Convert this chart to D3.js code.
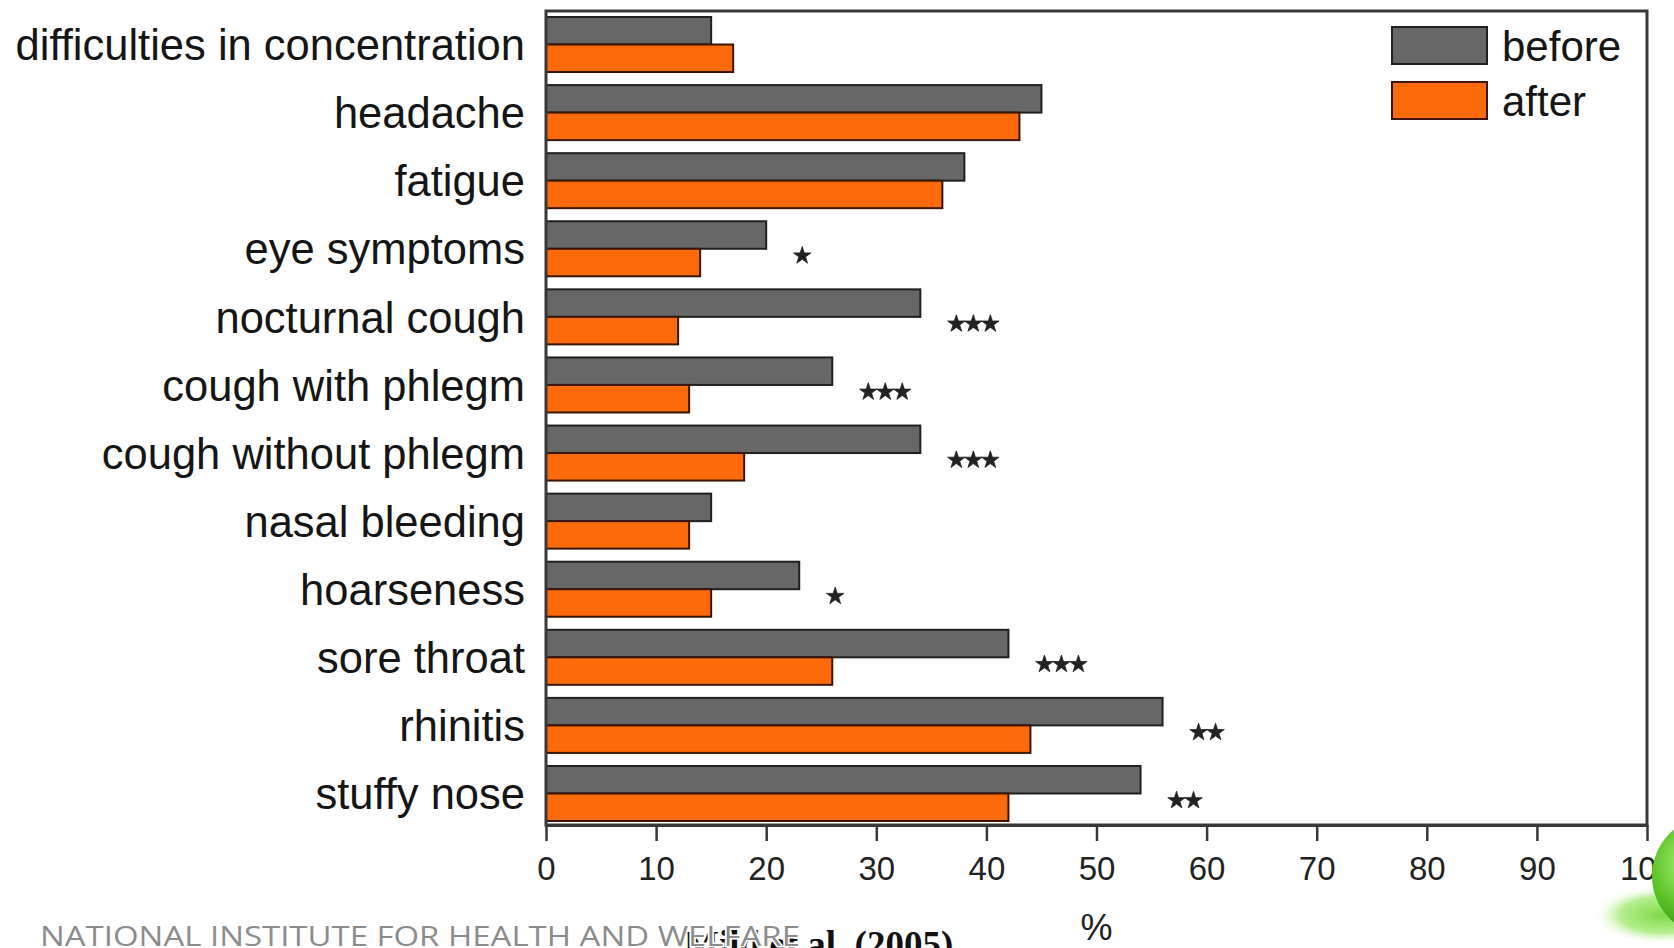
<!DOCTYPE html>
<html>
<head>
<meta charset="utf-8">
<script src="https://cdn.jsdelivr.net/npm/d3@7"></script>
<style>
  html, body { margin: 0; padding: 0; background: #fff; }
  svg { display: block; }
</style>
</head>
<body>
<div id="chart"></div>
<script>
// Symptoms reported before / after, percent of respondents
const categories = [
  'difficulties in concentration',
  'headache',
  'fatigue',
  'eye symptoms',
  'nocturnal cough',
  'cough with phlegm',
  'cough without phlegm',
  'nasal bleeding',
  'hoarseness',
  'sore throat',
  'rhinitis',
  'stuffy nose',
];
const beforeValues = [15, 45, 38, 20, 34, 26, 34, 15, 23, 42, 56, 54];
const afterValues = [17, 43, 36, 14, 12, 13, 18, 13, 15, 26, 44, 42];
const significance = ['', '', '', '*', '***', '***', '***', '', '*', '***', '**', '**'];
const seriesNames = ['before', 'after'];
const xTicks = [0, 10, 20, 30, 40, 50, 60, 70, 80, 90, 100];
const xLabel = '%';
const footerText = 'NATIONAL INSTITUTE FOR HEALTH AND WELFARE';
const citation = 'Mild et al. (2005)';

const width = 1674;
const height = 948;
const margin = { top: 11, right: 27, bottom: 123, left: 546 };
const innerW = width - margin.left - margin.right;
const innerH = height - margin.top - margin.bottom;

const colors = { before: '#676767', after: '#fc6a0c' };
const strokes = { before: '#202020', after: '#3a1500' };
const labelFont = '"Liberation Sans", Arial, Helvetica, sans-serif';

const svg = d3
  .select('#chart')
  .append('svg')
  .attr('width', width)
  .attr('height', height);

const defs = svg.append('defs');

const chart = svg
  .append('g')
  .attr('transform', `translate(${margin.left},${margin.top})`);

// Scales
const x = d3.scaleLinear().domain([0, 100]).range([0, innerW]);
const y = d3
  .scaleBand()
  .domain(categories)
  .range([6, innerH - 4])
  .paddingInner(0.192);
const sub = d3.scaleBand().domain(seriesNames).range([0, y.bandwidth()]);

const rows = categories.map((c, i) => ({
  name: c,
  before: beforeValues[i],
  after: afterValues[i],
  sig: significance[i],
}));

// Bars
const groups = chart
  .selectAll('.row')
  .data(rows)
  .enter()
  .append('g')
  .attr('class', 'row')
  .attr('transform', d => `translate(0,${y(d.name)})`);

groups
  .selectAll('rect')
  .data(d => seriesNames.map(s => ({ key: s, value: d[s] })))
  .enter()
  .append('rect')
  .attr('x', x(0))
  .attr('y', d => sub(d.key))
  .attr('width', d => x(d.value) - x(0))
  .attr('height', sub.bandwidth())
  .attr('fill', d => colors[d.key])
  .attr('stroke', d => strokes[d.key])
  .attr('stroke-width', 2);

// Significance stars, placed just right of the "before" bar
const star = d3.symbol().type(d3.symbolStar).size(95);
groups.each(function (d) {
  const n = d.sig.length;
  for (let k = 0; k < n; k++) {
    d3.select(this)
      .append('path')
      .attr('d', star)
      .attr('fill', '#222')
      .attr('stroke', '#222')
      .attr('stroke-width', 0.8)
      .attr(
        'transform',
        `translate(${x(d.before) + 36 + k * 17},${y.bandwidth() / 2 + 7})`
      );
  }
});

// Category labels
chart
  .selectAll('.cat-label')
  .data(categories)
  .enter()
  .append('text')
  .attr('class', 'cat-label')
  .attr('x', -21)
  .attr('y', d => y(d) + y.bandwidth() / 2)
  .attr('dy', '0.36em')
  .attr('text-anchor', 'end')
  .attr('font-family', labelFont)
  .attr('font-size', 43.5)
  .attr('fill', '#151515')
  .text(d => d);

// Frame
chart
  .append('rect')
  .attr('x', 0)
  .attr('y', 0)
  .attr('width', innerW)
  .attr('height', innerH)
  .attr('fill', 'none')
  .attr('stroke', '#383838')
  .attr('stroke-width', 3);

// X axis
const xAxis = chart
  .append('g')
  .attr('transform', `translate(0,${innerH})`)
  .call(
    d3.axisBottom(x).tickValues(xTicks).tickSize(16).tickPadding(16).tickSizeOuter(0)
  );

xAxis.select('.domain').attr('stroke', '#383838').attr('stroke-width', 3);
xAxis.selectAll('.tick line').attr('stroke', '#383838').attr('stroke-width', 2.5);
xAxis
  .selectAll('.tick text')
  .attr('font-family', '"Liberation Sans Narrow", "Arial Narrow", ' + labelFont)
  .attr('font-size', 33)
  .attr('fill', '#222');

chart
  .append('text')
  .attr('x', innerW / 2)
  .attr('y', innerH + 115)
  .attr('text-anchor', 'middle')
  .attr('font-family', labelFont)
  .attr('font-size', 36)
  .attr('fill', '#222')
  .text(xLabel);

// Legend
const legend = chart
  .append('g')
  .attr('transform', `translate(${innerW - 255},${16})`);

const legendItems = legend
  .selectAll('.legend-item')
  .data(seriesNames)
  .enter()
  .append('g')
  .attr('class', 'legend-item')
  .attr('transform', (d, i) => `translate(0,${i * 55})`);

legendItems
  .append('rect')
  .attr('width', 95)
  .attr('height', 37)
  .attr('fill', d => colors[d])
  .attr('stroke', d => strokes[d])
  .attr('stroke-width', 2);

legendItems
  .append('text')
  .attr('x', 110)
  .attr('y', 19)
  .attr('dy', '0.36em')
  .attr('font-family', labelFont)
  .attr('font-size', 42)
  .attr('fill', '#151515')
  .text(d => d);

// Slide footer: citation runs off the bottom and sits under the institute name
svg
  .append('text')
  .attr('x', 684)
  .attr('y', 957)
  .attr('font-family', '"Liberation Serif", "Times New Roman", serif')
  .attr('font-weight', 'bold')
  .attr('font-size', 37)
  .attr('fill', '#111')
  .text(citation);

svg
  .append('text')
  .attr('x', 40)
  .attr('y', 946)
  .attr('font-family', '"Open Sans", sans-serif')
  .attr('font-size', 27)
  .attr('textLength', 760)
  .attr('lengthAdjust', 'spacingAndGlyphs')
  .attr('fill', '#8c8c8c')
  .attr('stroke', '#fff')
  .attr('stroke-width', 3)
  .attr('paint-order', 'stroke')
  .text(footerText);

// Green decoration in the corner
const ballGrad = defs
  .append('radialGradient')
  .attr('id', 'ball')
  .attr('cx', '35%')
  .attr('cy', '40%')
  .attr('r', '65%');
ballGrad.append('stop').attr('offset', '0%').attr('stop-color', '#b8f08a');
ballGrad.append('stop').attr('offset', '55%').attr('stop-color', '#5cc628');
ballGrad.append('stop').attr('offset', '100%').attr('stop-color', '#2f8a10');

const shadowGrad = defs
  .append('radialGradient')
  .attr('id', 'shadow')
  .attr('cx', '55%')
  .attr('cy', '50%')
  .attr('r', '50%');
shadowGrad.append('stop').attr('offset', '0%').attr('stop-color', '#7fd848');
shadowGrad.append('stop').attr('offset', '60%').attr('stop-color', '#b6ee90');
shadowGrad.append('stop').attr('offset', '100%').attr('stop-color', '#ffffff').attr('stop-opacity', 0);

svg
  .append('ellipse')
  .attr('cx', 1655)
  .attr('cy', 915)
  .attr('rx', 70)
  .attr('ry', 30)
  .attr('fill', 'url(#shadow)');

svg
  .append('circle')
  .attr('cx', 1712)
  .attr('cy', 876)
  .attr('r', 60)
  .attr('fill', 'url(#ball)');
</script>
</body>
</html>
